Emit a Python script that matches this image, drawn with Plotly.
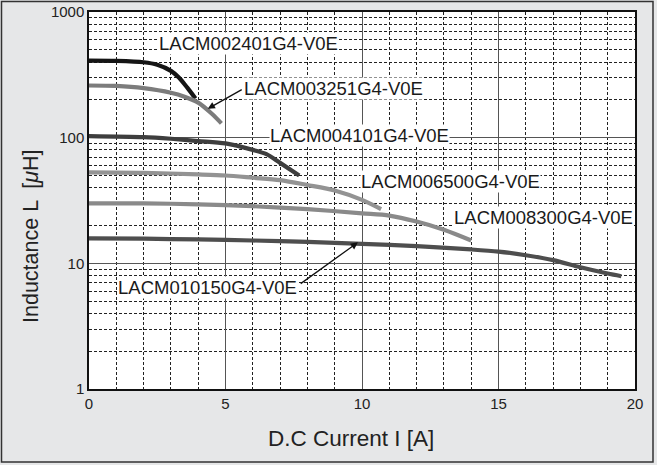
import plotly.graph_objects as go

# ---- data ----
names = ["LACM002401G4-V0E", "LACM003251G4-V0E", "LACM004101G4-V0E",
         "LACM006500G4-V0E", "LACM008300G4-V0E", "LACM010150G4-V0E"]

i_002401 = [0, 1, 2, 2.5, 3, 3.3, 3.6, 3.9]
l_002401 = [410, 408, 398, 380, 340, 300, 250, 205]

i_003251 = [0, 1, 2, 3, 3.5, 4, 4.5, 4.85]
l_003251 = [260, 258, 248, 228, 212, 190, 155, 130]

i_004101 = [0, 2, 3, 4, 5, 6, 6.5, 7, 7.7]
l_004101 = [103, 101, 98, 94, 90, 80, 74, 63, 50]

i_006500 = [0, 2, 4, 5, 6, 7, 8, 9, 10, 10.7]
l_006500 = [53, 52.5, 51, 50, 48, 46, 42, 38, 32, 27]

i_008300 = [0, 2, 4, 6, 8, 10, 11, 12, 13, 14]
l_008300 = [30, 30, 29.5, 28.5, 27, 25, 24, 21.5, 18.5, 15.2]

i_010150 = [0, 2, 4, 6, 8, 10, 12, 14, 15, 16, 17, 18, 19, 19.5]
l_010150 = [15.8, 15.7, 15.5, 15.2, 14.8, 14.3, 13.7, 12.9, 12.4, 11.6, 10.6, 9.3, 8.3, 7.9]

x_ticks = [0, 5, 10, 15, 20]
y_ticks = [1, 10, 100, 1000]

x_title = "D.C Current I [A]"
y_title = "Inductance L  [<i>μ</i>H]"

series = [(i_002401, l_002401), (i_003251, l_003251), (i_004101, l_004101),
          (i_006500, l_006500), (i_008300, l_008300), (i_010150, l_010150)]

# ---- styling ----
colors = ["#151515", "#7c7c7c", "#3e3e3e", "#939393", "#8a8a8a", "#4e4e4e"]
FONT = "Liberation Sans, Arial, Helvetica, sans-serif"
W, H = 657, 465
L, R, T, B = 89, 22, 12, 76
pw = W - L - R
ph = H - T - B


def px_x(p):
    return (p - L) / pw


def px_y(p):
    return (H - B - p) / ph


fig = go.Figure()
for (xs, ys), c, n in zip(series, colors, names):
    fig.add_trace(go.Scatter(x=xs, y=ys, mode="lines", name=n,
                             line=dict(color=c, width=4.2, shape="spline", smoothing=0.8),
                             showlegend=False, hoverinfo="skip"))

# label positions (data coords, log10 for y)
label_pos = [(5.85, 2.746), (8.95, 2.389), (9.9, 2.016),
             (13.25, 1.651), (16.65, 1.365), (4.33, 0.81)]
for n, (lx, ly) in zip(names, label_pos):
    fig.add_annotation(x=lx, y=ly, xref="x", yref="y", text=n, showarrow=False,
                       font=dict(family=FONT, size=18.5, color="#1a1a1a"),
                       bgcolor="white", borderpad=0)

# arrows
fig.add_annotation(x=4.35, y=2.23, ax=5.65, ay=2.389, xref="x", yref="y",
                   axref="x", ayref="y", text="", showarrow=True,
                   arrowhead=2, arrowsize=1.1, arrowwidth=1.3, arrowcolor="#111")
fig.add_annotation(x=9.85, y=1.167, ax=7.7, ay=0.83, xref="x", yref="y",
                   axref="x", ayref="y", text="", showarrow=True,
                   arrowhead=2, arrowsize=1.1, arrowwidth=1.3, arrowcolor="#111")

# axis titles
fig.add_annotation(x=px_x(351), y=px_y(438), xref="paper", yref="paper",
                   text=x_title, showarrow=False, xanchor="center", yanchor="middle",
                   font=dict(family=FONT, size=22.5, color="#222"))
fig.add_annotation(x=px_x(31), y=px_y(236), xref="paper", yref="paper",
                   text=y_title, showarrow=False, xanchor="center", yanchor="middle",
                   textangle=-90, font=dict(family=FONT, size=21.5, color="#222"))

# outer frame
fig.add_shape(type="rect", xref="paper", yref="paper",
              x0=px_x(1.5), x1=px_x(653), y0=px_y(462), y1=px_y(1.5),
              line=dict(color="#333333", width=1.5), layer="below")

fig.update_layout(
    width=W, height=H,
    margin=dict(l=L, r=R, t=T, b=B, autoexpand=False),
    paper_bgcolor="#e6e7e8", plot_bgcolor="white",
    font=dict(family=FONT, color="#222"),
)
fig.update_xaxes(
    automargin=False,
    range=[0, 20], tickvals=x_ticks, ticktext=[str(v) for v in x_ticks],
    showgrid=True, gridcolor="#555555", gridwidth=1,
    minor=dict(dtick=1, showgrid=True, gridcolor="#222222", griddash="3px,2px", gridwidth=0.9),
    showline=True, mirror=True, linecolor="#111", linewidth=1.5,
    ticks="", zeroline=False, tickfont=dict(size=15, color="#222"),
)
fig.update_yaxes(
    automargin=False,
    type="log", range=[0, 3], tickvals=y_ticks, ticktext=[str(v) for v in y_ticks],
    showgrid=True, gridcolor="#555555", gridwidth=1,
    minor=dict(dtick="D1", showgrid=True, gridcolor="#222222", griddash="3px,2px", gridwidth=0.9),
    showline=True, mirror=True, linecolor="#111", linewidth=1.5,
    ticks="", zeroline=False, tickfont=dict(size=15, color="#222"),
)

fig.write_html("out.html", config={"displayModeBar": False},
               post_script="document.body.style.margin='0px';document.body.style.overflow='hidden';")
